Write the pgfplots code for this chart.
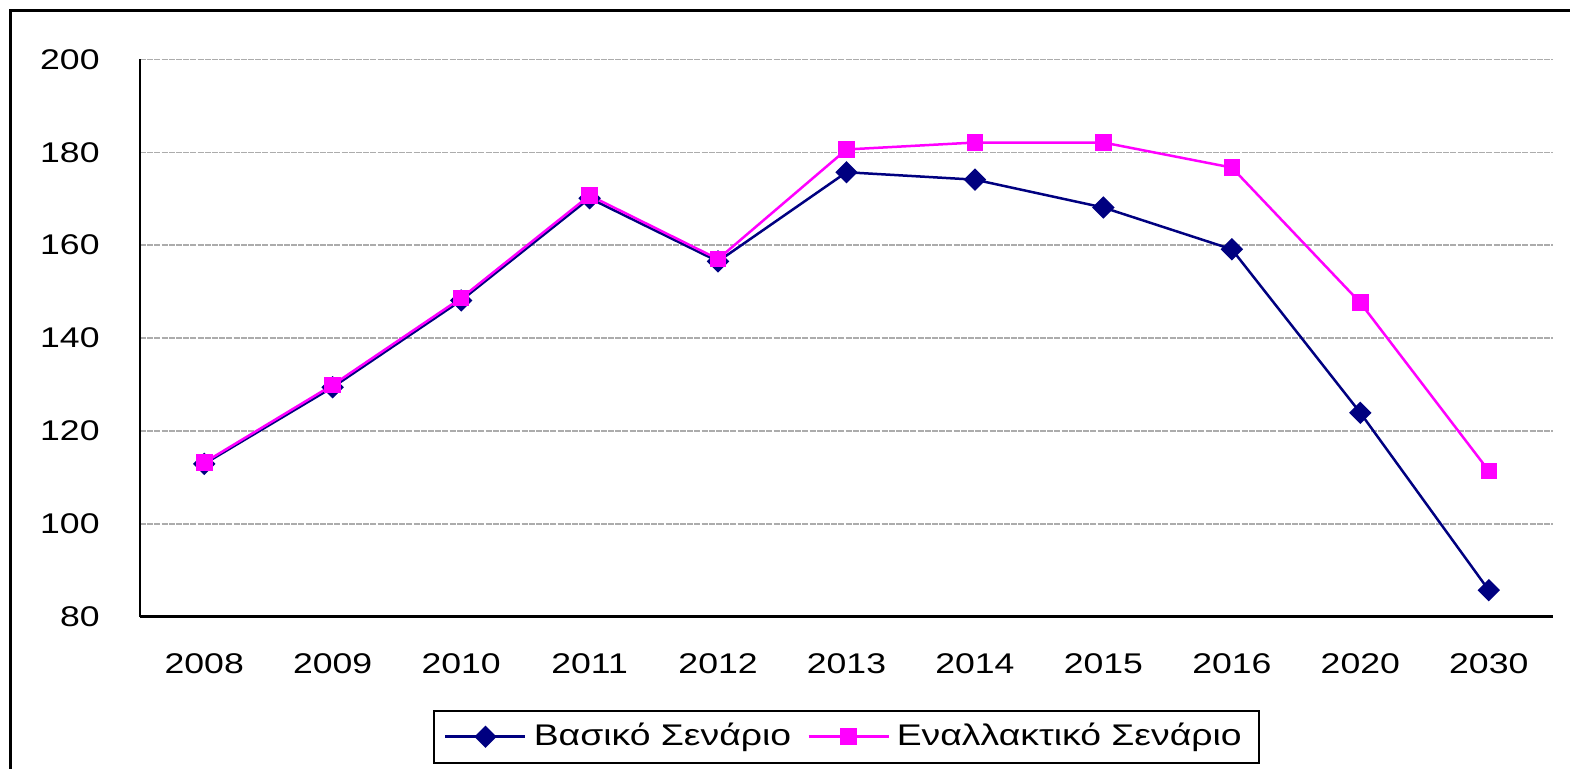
\documentclass[border=0pt]{standalone}
\usepackage{fontspec}
\setmainfont[FakeStretch=1.25]{Liberation Sans}
\usepackage{pgfplots}
\pgfplotsset{compat=1.18}
\definecolor{navyx}{HTML}{000080}
\definecolor{pinkx}{HTML}{FF00FF}
\begin{document}
\begin{tikzpicture}
\useasboundingbox (0,0) rectangle (157mm,76.9mm);
\draw[line width=0.3mm] (1.05mm,-5mm) rectangle (165mm,75.85mm);
\begin{axis}[
  at={(14mm,15.23mm)}, anchor=south west,
  scale only axis, width=141.3mm, height=55.73mm,
  xmin=-0.5, xmax=10.5, ymin=80, ymax=200,
  xtick={0,...,10},
  xticklabels={2008,2009,2010,2011,2012,2013,2014,2015,2016,2020,2030},
  ytick={80,100,...,200},
  axis x line*=bottom, axis y line*=left,
  axis line style={-},
  x axis line style={-, line width=0.3mm},
  y axis line style={-, line width=0.2mm},
  major tick length=0pt,
  ymajorgrids,
  grid style={gray!65, line width=0.15mm, dash pattern=on 0.6mm off 0.12mm},
  tick label style={font=\fontsize{8.1}{9}\selectfont},
  /pgf/number format/assume math mode=true,
  xticklabel style={yshift=-2.5mm},
  yticklabel style={xshift=-2.8mm},
  legend style={at={(0.5,-0.2154)}, anchor=center, draw=black, line width=0.2mm,
    font=\fontsize{8.5}{9}\selectfont, inner xsep=1.0mm, inner ysep=0.5mm,
    /tikz/every even column/.append style={column sep=0.9mm}},
  legend columns=2,
  legend image code/.code={\draw[mark repeat=2,mark phase=2] plot coordinates {(0mm,0mm)(4mm,0mm)(8mm,0mm)};},
]
\addplot[navyx, line width=0.25mm, mark=square*, mark size=1.9pt, mark options={rotate=45, solid}]
  coordinates {(0,112.9)(1,129.4)(2,148.1)(3,170.1)(4,156.5)(5,175.7)(6,174.1)(7,168.1)(8,159.1)(9,123.9)(10,85.7)};
\addlegendentry{Βασικό Σενάριο}
\addplot[pinkx, line width=0.25mm, mark=square*, mark size=2.0pt, mark options={solid}]
  coordinates {(0,113.2)(1,129.9)(2,148.6)(3,170.7)(4,157.0)(5,180.6)(6,182.1)(7,182.1)(8,176.7)(9,147.6)(10,111.4)};
\addlegendentry{Εναλλακτικό Σενάριο}
\end{axis}
\end{tikzpicture}
\end{document}
